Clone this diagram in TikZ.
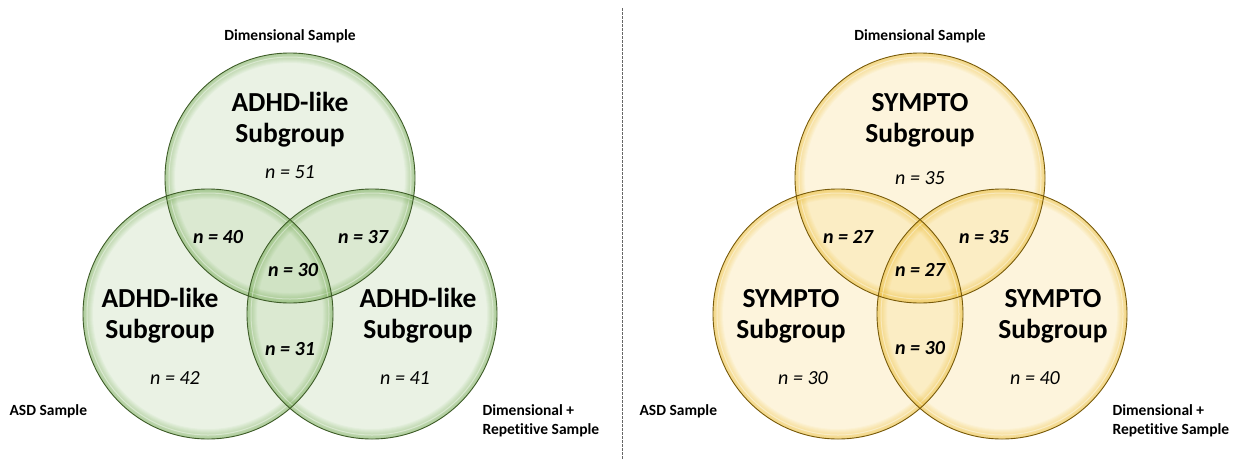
\documentclass[tikz,border=0pt]{standalone}
\usepackage{fontspec}
\setmainfont{Carlito}[Ligatures=NoCommon]
\usepackage{tikz}
\usetikzlibrary{positioning}
\definecolor{gfill}{RGB}{184,213,166}
\definecolor{gglow}{RGB}{112,168,78}
\definecolor{gline}{RGB}{62,92,40}
\definecolor{yfill}{RGB}{248,220,140}
\definecolor{yglow}{RGB}{236,186,40}
\definecolor{yline}{RGB}{120,90,10}
\newcommand{\glowring}[2]{%
  \begin{scope}
    \clip #1 circle[radius=125];
    \foreach \w in {2,4,...,20}
      \draw[#2, opacity=0.06, line width=\w pt] #1 circle[radius=125];
    \draw[white, opacity=0.4, line width=1pt] #1 circle[radius=121];
  \end{scope}}
\tikzset{
  grp/.style={font=\fontsize{27.5}{31}\selectfont\bfseries, align=center},
  cnt/.style={font=\fontsize{20}{24}\selectfont\itshape},
  ovl/.style={font=\fontsize{20}{24}\selectfont\bfseries\itshape},
  smp/.style={font=\fontsize{15.5}{18.5}\selectfont\bfseries, align=left},
  gset/.style={fill=gfill, fill opacity=0.3},
  yset/.style={fill=yfill, fill opacity=0.3},
  divider/.style={draw=gray!80!black, line width=0.8pt, dash pattern=on 2.5pt off 1.5pt}
}
\begin{document}
\begin{tikzpicture}[x=1pt,y=-1pt]
  \useasboundingbox (0,0) rectangle (1245,459);
  % circle centres
  \coordinate (gtop) at (290,178);
  \coordinate (gleft) at (208,314);
  \coordinate (gright) at (372,314);
  \coordinate (ytop) at (920,178);
  \coordinate (yleft) at (838,314);
  \coordinate (yright) at (1002,314);
  % left diagram
  \fill[gset] (gtop) circle[radius=125];
  \fill[gset] (gleft) circle[radius=125];
  \fill[gset] (gright) circle[radius=125];
  \glowring{(gtop)}{gglow}
  \glowring{(gleft)}{gglow}
  \glowring{(gright)}{gglow}
  \draw[gline, line width=0.9pt] (gtop) circle[radius=125] (gleft) circle[radius=125] (gright) circle[radius=125];
  % right diagram
  \fill[yset] (ytop) circle[radius=125];
  \fill[yset] (yleft) circle[radius=125];
  \fill[yset] (yright) circle[radius=125];
  \glowring{(ytop)}{yglow}
  \glowring{(yleft)}{yglow}
  \glowring{(yright)}{yglow}
  \draw[yline, line width=0.9pt] (ytop) circle[radius=125] (yleft) circle[radius=125] (yright) circle[radius=125];
  % divider
  \coordinate (divtop) at (622,8);
  \coordinate (divbot) at (622,459);
  \draw[divider] (divtop) -- (divbot);
  % texts, left
  \node[smp] (gdim) at (290,36) {Dimensional Sample};
  \node[grp] (gtopgrp) at (290,120) {ADHD-like\\Subgroup};
  \node[cnt] (gtopn) at (290,172) {n = 51};
  \node[grp] (gleftgrp) at (160,316) {ADHD-like\\Subgroup};
  \node[cnt] (gleftn) at (175,378) {n = 42};
  \node[grp] (grightgrp) at (418,316) {ADHD-like\\Subgroup};
  \node[cnt] (grightn) at (405,378) {n = 41};
  \node[ovl] (gtl) at (218,237) {n = 40};
  \node[ovl] (gtr) at (363,237) {n = 37};
  \node[ovl] (gall) at (293,270) {n = 30};
  \node[ovl] (gbot) at (290,349) {n = 31};
  \node[smp, anchor=west] (gasd) at (6,411) {ASD Sample};
  \node[smp, anchor=west] (grep) at (479,421) {Dimensional +\\Repetitive Sample};
  % texts, right
  \node[smp] (ydim) at (920,36) {Dimensional Sample};
  \node[grp] (ytopgrp) at (920,120) {SYMPTO\\Subgroup};
  \node[cnt] (ytopn) at (920,178) {n = 35};
  \node[grp] (yleftgrp) at (791,316) {SYMPTO\\Subgroup};
  \node[cnt] (yleftn) at (803,378) {n = 30};
  \node[grp] (yrightgrp) at (1053,316) {SYMPTO\\Subgroup};
  \node[cnt] (yrightn) at (1035,378) {n = 40};
  \node[ovl] (ytl) at (848,237) {n = 27};
  \node[ovl] (ytr) at (984,237) {n = 35};
  \node[ovl] (yall) at (920,270) {n = 27};
  \node[ovl] (ybot) at (920,348) {n = 30};
  \node[smp, anchor=west] (yasd) at (636,411) {ASD Sample};
  \node[smp, anchor=west] (yrep) at (1109,421) {Dimensional +\\Repetitive Sample};
\end{tikzpicture}
\end{document}
